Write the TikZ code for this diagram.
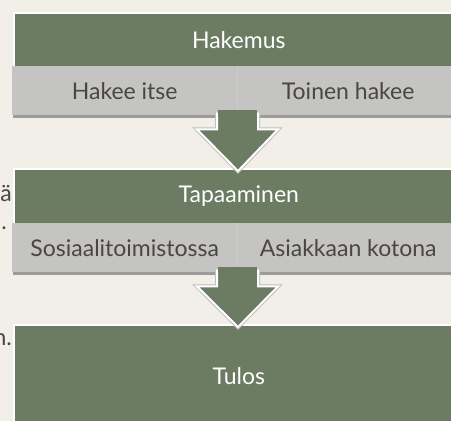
\documentclass[tikz,border=0pt]{standalone}
\usepackage{fontspec}
\setmainfont{Lato}
\usetikzlibrary{calc}
\definecolor{bgc}{HTML}{F2EFE8}
\definecolor{boxgreen}{HTML}{6C7C63}
\definecolor{rowgray}{HTML}{C4C4C2}
\definecolor{rowshadow}{HTML}{9C9C9A}
\definecolor{txtgray}{HTML}{4B4543}
\tikzset{
  greenbox/.style={draw=white, line width=1.6pt, fill=boxgreen, text=white, inner sep=0pt, anchor=north west, minimum width=450pt, font=\fontsize{23}{27}\selectfont},
  graycell/.style={fill=rowgray, text=txtgray, inner sep=0pt, anchor=north west, minimum height=49pt, font=\fontsize{23}{27}\selectfont},
  flowarrow/.style={fill=boxgreen, draw=white, line width=2pt, line join=miter},
  arrowshade/.style={draw=black!25, line width=4pt, line join=miter},
  bgtext/.style={text=txtgray, inner sep=0pt, anchor=base east, font=\fontsize{23}{27}\selectfont}
}
\begin{document}
\begin{tikzpicture}[x=1pt,y=-1pt]
\useasboundingbox (0,0) rectangle (451,421);
\clip (0,0) rectangle (451,421);
\fill[bgc] (0,0) rectangle (451,421);
% background text fragments
\node[bgtext] (f1) at (12,201) {tä};
\node[bgtext] (f2) at (7,229) {.};
\node[bgtext] (f3) at (12,345) {n.};
% block 1
\fill[rowshadow] (13,68) rectangle (470,117.5);
\node[greenbox, minimum height=54pt] (hak) at (13,12) {Hakemus};
\node[graycell, minimum width=225pt] (h1) at (12,66) {Hakee itse};
\node[graycell, minimum width=222pt] (h2) at (237,66) {Toinen hakee};
\draw[black!20, line width=0.8pt] (h2.north west) -- (h2.south west);
% block 2
\fill[rowshadow] (13,225) rectangle (470,274.5);
\node[greenbox, minimum height=55pt] (tap) at (13,168) {Tapaaminen};
\node[graycell, minimum width=225pt] (t1) at (12,223) {Sosiaalitoimistossa};
\node[graycell, minimum width=222pt] (t2) at (237,223) {Asiakkaan kotona};
\draw[black!20, line width=0.8pt] (t2.north west) -- (t2.south west);
% block 3
\node[greenbox, minimum height=102pt] (tul) at (13,324) {Tulos};
% arrows
\coordinate (a1s) at ($(h2.south west)+(0.5,-3)$);
\coordinate (a1t) at ($(tap.north west)+(225,3)$);
\coordinate (a2s) at ($(t2.south west)+(0.5,-3)$);
\coordinate (a2t) at ($(tul.north west)+(225,3)$);
\foreach \s/\t in {a1s/a1t, a2s/a2t}{
  \path[arrowshade] ($(\s)+(-20.5,0)$) -- ($(\s)+(-20.5,17)$) -- ($(\s)+(-40.5,17)$) -- (\t) -- ($(\s)+(40.5,17)$) -- ($(\s)+(20.5,17)$) -- ($(\s)+(20.5,0)$);
  \path[flowarrow] ($(\s)+(-20.5,0)$) -- ($(\s)+(-20.5,17)$) -- ($(\s)+(-40.5,17)$) -- (\t) -- ($(\s)+(40.5,17)$) -- ($(\s)+(20.5,17)$) -- ($(\s)+(20.5,0)$);
  \fill[boxgreen] ($(\s)+(-19.5,-2)$) rectangle ($(\s)+(19.5,4)$);
}
\end{tikzpicture}
\end{document}
